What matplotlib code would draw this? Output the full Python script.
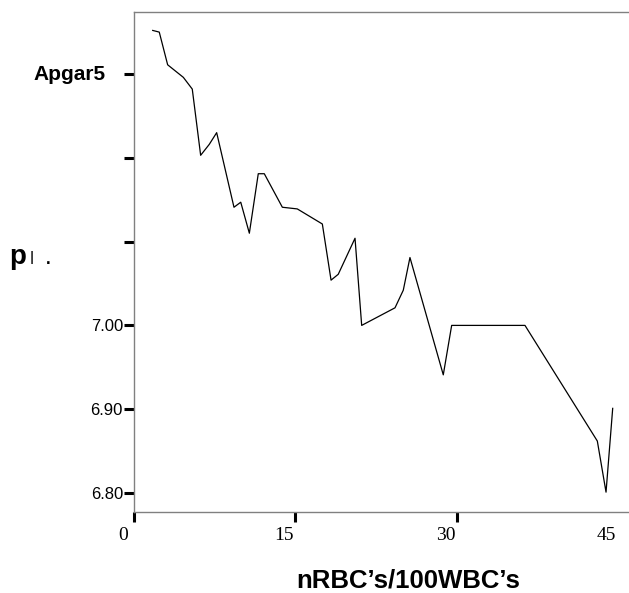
import matplotlib
matplotlib.use('Agg')
import matplotlib.pyplot as plt
import matplotlib.transforms as mtransforms

# nRBC's/100WBC's  vs  pH
nrbc = [1.74, 2.35, 3.13, 3.81, 4.59, 5.42, 6.20, 7.00, 7.69, 9.30,
        9.93, 10.73, 11.56, 12.12, 13.80, 15.19, 17.52, 18.33, 19.00, 20.56,
        21.18, 24.28, 25.05, 25.67, 28.77, 29.55, 36.37, 43.10, 43.91, 44.53]
ph = [7.352, 7.350, 7.311, 7.304, 7.296, 7.282, 7.203, 7.216, 7.230, 7.141,
      7.147, 7.110, 7.181, 7.181, 7.141, 7.139, 7.121, 7.054, 7.061, 7.104,
      7.000, 7.021, 7.042, 7.081, 6.941, 7.000, 7.000, 6.862, 6.801, 6.901]

xticks = [0, 15, 30, 45]
xtick_labels = ['0', '15', '30', '45']
yticks = [6.80, 6.90, 7.00, 7.10, 7.20, 7.30]
ytick_labels = ['6.80', '6.90', '7.00', '', '', '']

fig = plt.figure(figsize=(6.29, 5.93), dpi=100)
ax = fig.add_axes([134/629, 81/593, 566/629, 500/593])

ax.plot(nrbc, ph, color='black', linewidth=0.9)

ax.set_xlim(0, 566/10.75)
ax.set_ylim(6.80 - 19/838, 6.80 + 481/838)

# eixos
for s in ['top', 'bottom', 'left']:
    ax.spines[s].set_color('#808080')
    ax.spines[s].set_linewidth(1.0)
ax.spines['right'].set_visible(False)

ax.set_yticks(yticks)
ax.set_yticklabels(ytick_labels, fontfamily='Liberation Sans', fontsize=12)
ax.tick_params(axis='y', direction='out', length=7.5, width=2.2, pad=0.5, color='black')

ax.set_xticks(xticks)
ax.set_xticklabels(xtick_labels, fontfamily='Liberation Serif', fontsize=14)
ax.tick_params(axis='x', direction='out', length=7.5, width=2.2, pad=3.5, color='black')
ax.xaxis.get_major_ticks()[3].tick1line.set_visible(False)
desloc = mtransforms.ScaledTranslation(-11/100, 0, fig.dpi_scale_trans)
for lbl in ax.get_xticklabels():
    lbl.set_transform(lbl.get_transform() + desloc)

ax.annotate('Apgar5', xy=(0, 7.30), xycoords=ax.get_yaxis_transform(),
            xytext=(-28, 0), textcoords='offset pixels', ha='right', va='center',
            fontfamily='Liberation Sans', fontweight='bold', fontsize=15)

ax.set_xlabel("nRBC\u2019s/100WBC\u2019s", fontfamily='Liberation Sans',
              fontweight='bold', fontsize=18.5)
ax.xaxis.set_label_coords((408 - 134) / 566, (512 - 568) / 500)

# rotulo do eixo y (como aparece no original)
yb = 1 - 264/593
fig.text(9/629, yb, 'p', ha='left', va='baseline',
         fontfamily='Liberation Sans', fontweight='bold', fontsize=20)
fig.text(30/629, yb, 'l', ha='left', va='baseline',
         fontfamily='Liberation Sans', fontsize=13, color='#222222')
fig.text(46/629, yb, '.', ha='left', va='baseline',
         fontfamily='Liberation Sans', fontweight='bold', fontsize=12)

fig.savefig('out.png', dpi=100)
